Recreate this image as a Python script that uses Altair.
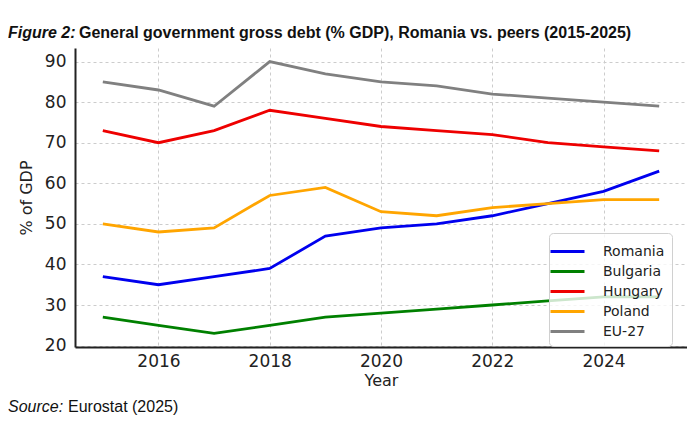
import altair as alt
import pandas as pd

years = list(range(2015, 2026))
romania = [37, 35, 37, 39, 47, 49, 50, 52, 55, 58, 63]
bulgaria = [27, 25, 23, 25, 27, 28, 29, 30, 31, 32, 32]
hungary = [73, 70, 73, 78, 76, 74, 73, 72, 70, 69, 68]
poland = [50, 48, 49, 57, 59, 53, 52, 54, 55, 56, 56]
eu27 = [85, 83, 79, 90, 87, 85, 84, 82, 81, 80, 79]

countries = ["Romania", "Bulgaria", "Hungary", "Poland", "EU-27"]
colors = ["#0000ee", "#008000", "#ee0000", "#ffa500", "#808080"]
series = [romania, bulgaria, hungary, poland, eu27]

rows = []
for name, vals in zip(countries, series):
    for y, v in zip(years, vals):
        rows.append({"Year": y, "Country": name, "Debt": v})
df = pd.DataFrame(rows)

# one row only, so each text is drawn once
one = pd.DataFrame({"k": [0]})

text_font = "Liberation Sans, Arial"
tick_font = "DejaVu Sans"

lines = alt.Chart(df).mark_line(strokeWidth=2.8).encode(
    x=alt.X("Year:Q", title="Year",
            scale=alt.Scale(domain=[2014.5, 2025.5], nice=False, zero=False),
            axis=alt.Axis(values=[2016, 2018, 2020, 2022, 2024], format="d")),
    y=alt.Y("Debt:Q", title="% of GDP",
            scale=alt.Scale(domain=[19.65, 93.35], nice=False, zero=False),
            axis=alt.Axis(values=[20, 30, 40, 50, 60, 70, 80, 90],
                          labelPadding=9)),
    color=alt.Color("Country:N", title=None,
                    scale=alt.Scale(domain=countries, range=colors),
                    legend=alt.Legend(orient="none", legendX=474, legendY=185,
                                      symbolType="M-1.7,0L1.7,0", symbolSize=400,
                                      symbolStrokeWidth=3, labelFontSize=14,
                                      labelFont=tick_font, labelColor="#222",
                                      rowPadding=1, padding=7,
                                      fillColor="rgba(255,255,255,0.8)",
                                      strokeColor="#d0d0d0", cornerRadius=4,
                                      labelOffset=24)),
)

title_a = alt.Chart(one).mark_text(
    text="Figure 2:", font=text_font, fontSize=16, fontStyle="italic",
    fontWeight="bold", align="left", baseline="middle", color="#111"
).encode(x=alt.value(-67), y=alt.value(-15))

title_b = alt.Chart(one).mark_text(
    text="General government gross debt (% GDP), Romania vs. peers (2015-2025)",
    font=text_font, fontSize=16, fontWeight="bold", align="left",
    baseline="middle", color="#111"
).encode(x=alt.value(4), y=alt.value(-15))

source_a = alt.Chart(one).mark_text(
    text="Source:", font=text_font, fontSize=16, fontStyle="italic",
    align="left", baseline="middle", color="#111"
).encode(x=alt.value(-67), y=alt.value(359))

source_b = alt.Chart(one).mark_text(
    text="Eurostat (2025)", font=text_font, fontSize=16,
    align="left", baseline="middle", color="#111"
).encode(x=alt.value(-7), y=alt.value(359))

chart = alt.layer(lines, title_a, title_b, source_a, source_b).properties(
    width=612,
    height=299,
    autosize=alt.AutoSizeParams(type="none"),
    padding={"left": 67, "top": 40, "right": 0, "bottom": 82},
).configure_view(
    stroke=None
).configure_axis(
    labelFont=tick_font,
    titleFont=tick_font,
    labelFontSize=17,
    titleFontSize=16,
    titleFontWeight="normal",
    labelColor="#222",
    titleColor="#222",
    grid=True,
    gridDash=[3, 3],
    gridColor="#cccccc",
    domainColor="#222",
    domainWidth=2,
    ticks=False,
    labelPadding=6,
).configure_axisX(
    titlePadding=3,
).configure_axisY(
    titlePadding=10,
)

chart.save("out.html", embed_options={"renderer": "svg", "actions": False})
